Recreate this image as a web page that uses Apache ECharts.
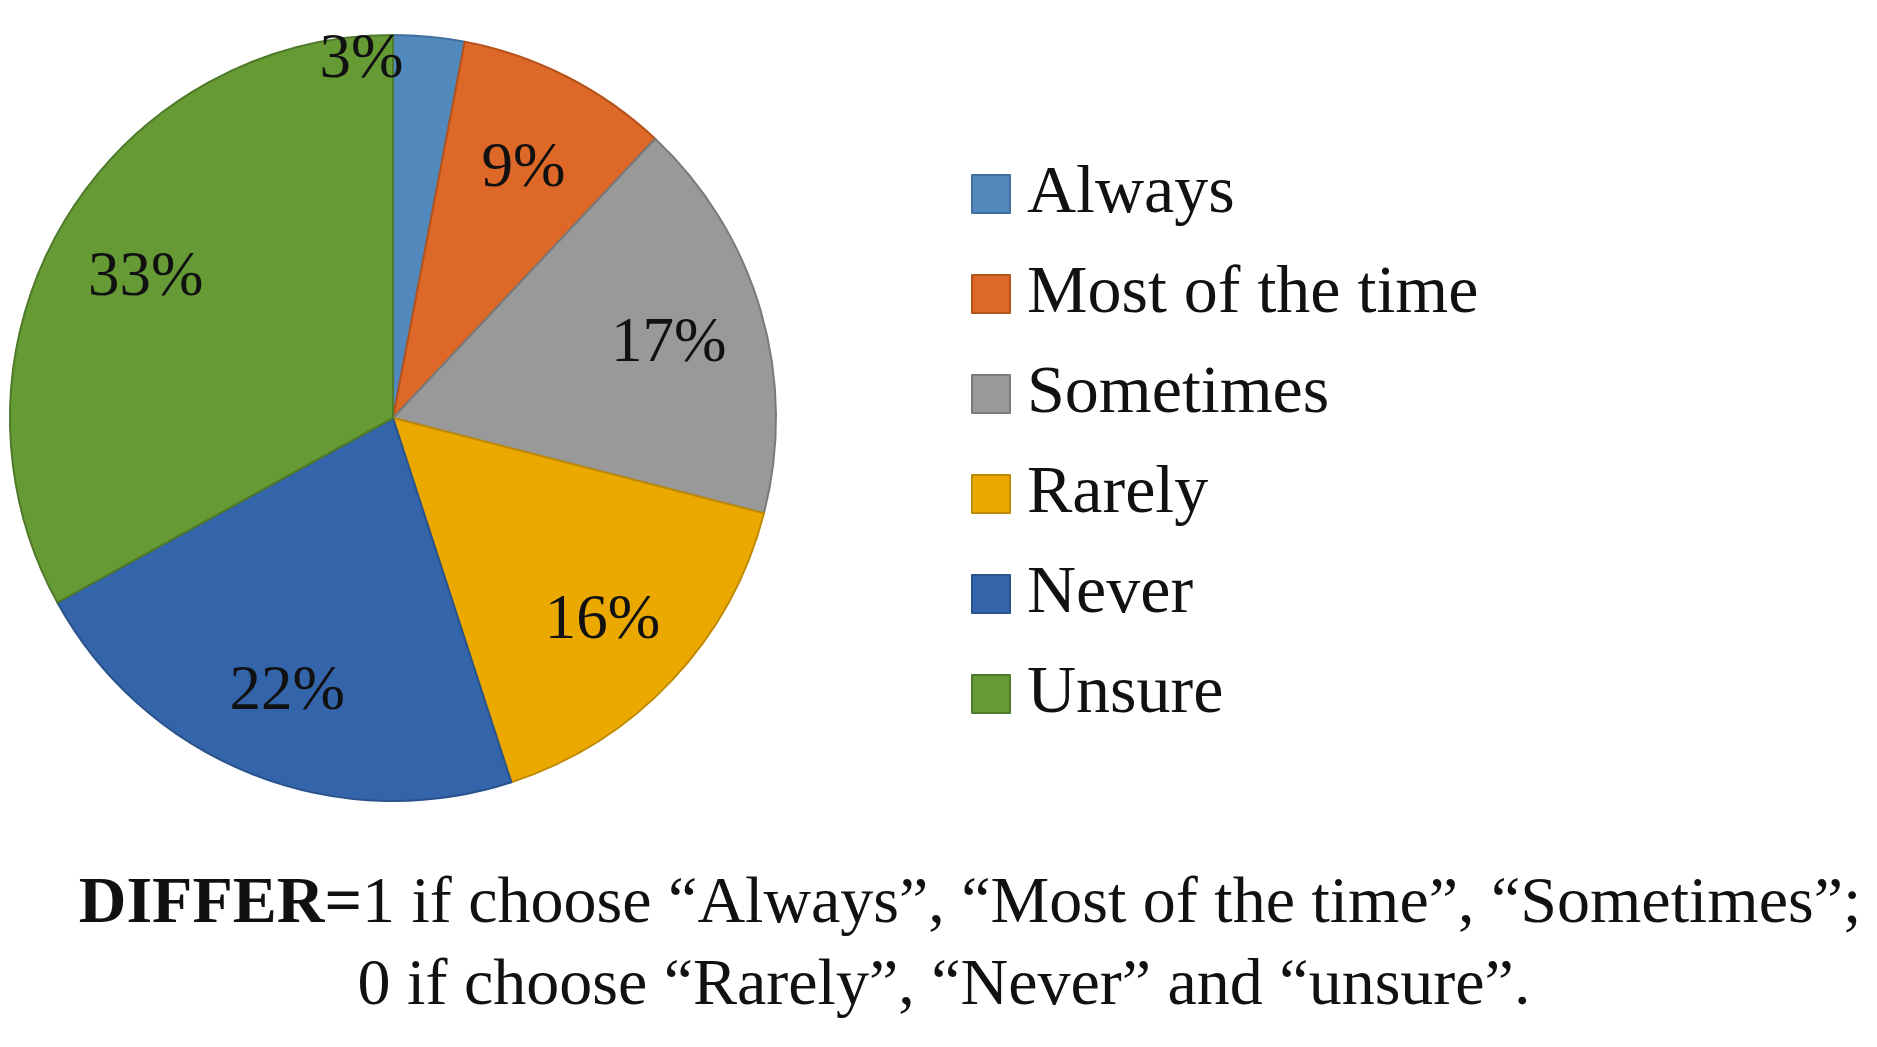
<!DOCTYPE html>
<html>
<head>
<meta charset="utf-8">
<script src="https://cdn.jsdelivr.net/npm/echarts@6/dist/echarts.min.js"></script>
<style>
  html, body { margin: 0; padding: 0; background: #fff; }
  #chart { width: 1877px; height: 1047px; }
</style>
</head>
<body>
<div id="chart"></div>
<script>
// answers and their shares (%)
const categories = ['Always', 'Most of the time', 'Sometimes', 'Rarely', 'Never', 'Unsure'];
const shares = [3, 9, 17, 16, 22, 33];
const captionLine1 = ['DIFFER=', '1 if choose \u201cAlways\u201d, \u201cMost of the time\u201d, \u201cSometimes\u201d;'];
const captionLine2 = '0 if choose \u201cRarely\u201d, \u201cNever\u201d and \u201cunsure\u201d.';

const fills = ['#5289BC', '#DD6827', '#999999', '#EBA900', '#3465AA', '#659A35'];
const borders = ['#41709E', '#B5531C', '#7A7A7A', '#C08A00', '#2A528C', '#4F7A29'];

const serif = '"Liberation Serif", "DejaVu Serif", serif';
const cx = 393, cy = 418, R = 383;
const total = shares.reduce((a, b) => a + b, 0);

// the small slice's label sits near the rim, pushed left
const labelTweak = { 0: { r: 0.955, dx: -66 } };

const chart = echarts.init(document.getElementById('chart'));
chart.setOption({
  animation: false,
  legend: {
    orient: 'vertical',
    left: 966,
    top: 155,
    icon: 'rect',
    itemWidth: 38,
    itemHeight: 38,
    itemGap: 32,
    data: categories,
    itemStyle: { borderWidth: 2 },
    textStyle: { fontFamily: serif, fontSize: 68, color: '#111', padding: [0, 0, 0, 12] }
  },
  series: [{
    type: 'pie',
    center: [cx, cy],
    radius: R,
    startAngle: 90,
    clockwise: true,
    data: categories.map((name, i) => ({
      name: name,
      value: shares[i],
      itemStyle: { color: fills[i], borderColor: borders[i], borderWidth: 2 }
    })),
    label: {
      show: true,
      position: 'inside',
      formatter: '{c}%',
      fontFamily: serif,
      fontSize: 63,
      color: '#111'
    },
    labelLine: { show: false },
    labelLayout: function (p) {
      const i = p.dataIndex;
      let before = 0;
      for (let k = 0; k < i; k++) before += shares[k];
      const a = (before + shares[i] / 2) / total * Math.PI * 2;
      const t = labelTweak[i] || { r: 0.75, dx: 0 };
      return {
        x: cx + Math.sin(a) * R * t.r + t.dx,
        y: cy - Math.cos(a) * R * t.r + 7,
        align: 'center',
        verticalAlign: 'middle'
      };
    }
  }],
  graphic: [
    {
      type: 'text',
      x: 970,
      y: 905,
      style: {
        text: '{b|' + captionLine1[0] + '}' + captionLine1[1],
        font: '66px ' + serif,
        fill: '#111',
        align: 'center',
        verticalAlign: 'middle',
        rich: { b: { fontFamily: serif, fontSize: 66, fontWeight: 'bold', fill: '#111' } }
      }
    },
    {
      type: 'text',
      x: 944,
      y: 987,
      style: {
        text: captionLine2,
        font: '66px ' + serif,
        fill: '#111',
        align: 'center',
        verticalAlign: 'middle'
      }
    }
  ]
});
</script>
</body>
</html>
